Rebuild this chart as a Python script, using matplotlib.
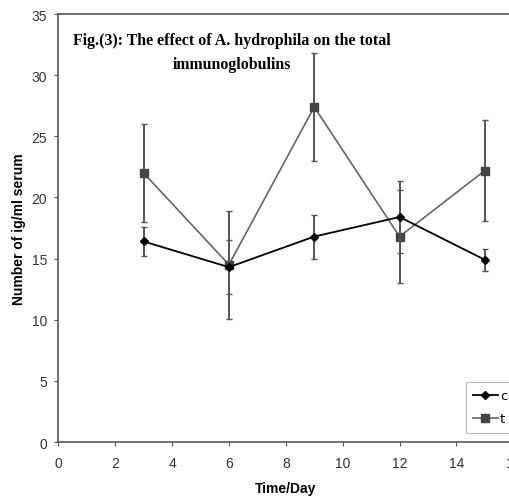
import matplotlib.pyplot as plt
from matplotlib.lines import Line2D

days = [3, 6, 9, 12, 15]
c_mean = [16.4, 14.3, 16.8, 18.4, 14.9]
c_err = [1.15, 2.2, 1.8, 2.95, 0.88]
t_mean = [22.0, 14.5, 27.4, 16.8, 22.2]
t_err = [4.0, 4.4, 4.45, 3.8, 4.15]

fig = plt.figure(figsize=(5.09, 5.02), dpi=100)
ax = fig.add_axes([0.1145, 0.1175, 0.894, 0.8526])

ax.errorbar(days, c_mean, yerr=c_err, color="black", marker="D", markersize=4.5,
            linewidth=1.3, ecolor="#555555", elinewidth=1.4, capsize=2.5,
            zorder=3)
ax.errorbar(days, t_mean, yerr=t_err, color="#666666", marker="s", markersize=5.5,
            markerfacecolor="#444444", markeredgecolor="#444444",
            linewidth=1.2, ecolor="#555555", elinewidth=1.4, capsize=2.5,
            zorder=2)

ax.set_xlim(0, 16)
ax.set_ylim(0, 35)
ax.set_xticks(range(0, 17, 2))
ax.set_yticks(range(0, 36, 5))

for side in ["left", "bottom", "top"]:
    ax.spines[side].set_color("#555555")
    ax.spines[side].set_linewidth(1.2)
ax.spines["right"].set_visible(False)
ax.tick_params(direction="out", length=3, color="#555555", labelsize=10,
               labelcolor="#333333")
ax.tick_params(axis="x", pad=7)
ax.tick_params(axis="y", pad=5)

ax.set_xlabel("Time/Day", fontsize=10, fontweight="bold", labelpad=8,
              family="Liberation Sans")
ax.set_ylabel("Number of ig/ml serum", fontsize=10, fontweight="bold",
              labelpad=4, family="Liberation Sans")
for lab in ax.get_xticklabels() + ax.get_yticklabels():
    lab.set_family("Liberation Sans")

ax.text(0.382, 0.957, "Fig.(3): The effect of A. hydrophila on the total\nimmunoglobulins",
        transform=ax.transAxes, ha="center", va="top", fontsize=11.4,
        fontweight="bold", family="Liberation Serif", linespacing=1.6)

handles = [
    Line2D([], [], color="black", marker="D", markersize=4.5, linewidth=1.3),
    Line2D([], [], color="#666666", marker="s", markersize=5.5,
           markerfacecolor="#444444", markeredgecolor="#444444", linewidth=1.2),
]
leg = ax.legend(handles, ["c", "t"], loc="upper left",
                bbox_to_anchor=(0.895, 0.14), fontsize=9.5, frameon=True,
                fancybox=False, handlelength=1.9, handletextpad=0.15,
                borderpad=0.55, borderaxespad=0, labelspacing=0.75)
leg.get_frame().set_edgecolor("#aaaaaa")
leg.get_frame().set_linewidth(0.8)

fig.savefig("out.png", dpi=100)
